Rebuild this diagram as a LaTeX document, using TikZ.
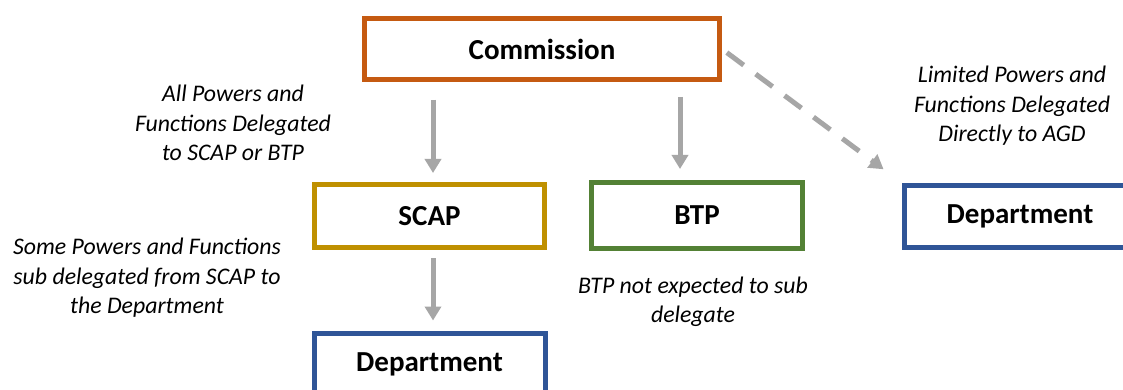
\documentclass[tikz,border=0pt]{standalone}
\usepackage{fontspec}
\setmainfont{Carlito}
\usetikzlibrary{arrows.meta}

\definecolor{comorange}{HTML}{C55A11}
\definecolor{scapgold}{HTML}{BF9000}
\definecolor{btpgreen}{HTML}{538135}
\definecolor{deptblue}{HTML}{2F5597}
\definecolor{arrowgray}{HTML}{A6A6A6}

\begin{document}
\begin{tikzpicture} [x=1pt,y=-1pt,
			box/.style={draw,line width=5pt,fill=white,inner sep=0pt,
				font=\fontsize{29}{34}\selectfont\bfseries},
			commission box/.style={box,draw=comorange,minimum width=355pt,minimum height=61pt},
			scap box/.style={box,draw=scapgold,minimum width=230pt,minimum height=63pt},
			btp box/.style={box,draw=btpgreen,minimum width=211pt,minimum height=66pt},
			dept box/.style={box,draw=deptblue,minimum width=231pt,minimum height=62pt},
			note/.style={align=center,inner sep=0pt,
				font=\fontsize{23.8}{29.5}\selectfont\itshape},
			arr/.style={draw=arrowgray,line width=5pt,
				-{Triangle[width=16pt,length=14pt]},arrowgray},
			dasharr/.style={arr,dash pattern=on 21pt off 15pt}
			]

		\clip (0,0) rectangle (1123,390);
		\fill [white] (0,0) rectangle (1123,390);

		% boxes
		\node [commission box] (com) at (542,49) {Commission};
		\node [scap box] (scap) at (429.5,216) {SCAP};
		\node [btp box] (btp) at (697,215.5) {BTP};
		\node [dept box] (dept1) at (1020,216.5) {Department};
		\node [dept box] (dept2) at (429.5,364) {Department};

		% notes
		\node [note] (n1) at (233,123) {All Powers and\\Functions Delegated\\to SCAP or BTP};
		\node [note] (n2) at (147,278) {Some Powers and Functions\\sub delegated from SCAP to\\the Department};
		\node [note] (n3) at (693,302) {BTP not expected to sub\\delegate};
		\node [note] (n4) at (1012,106) {Limited Powers and\\Functions Delegated\\Directly to AGD};

		% arrows
		\draw [arr,shorten <=18pt,shorten >=9pt,transform canvas={xshift=3.5pt}]
			(com.south -| scap.north) -- (scap.north);
		\draw [arr,shorten <=15pt,shorten >=11pt,transform canvas={xshift=-17pt}]
			(com.south -| btp.north) -- (btp.north);
		\draw [arr,shorten <=8pt,shorten >=10pt,transform canvas={xshift=3.5pt}]
			(scap.south) -- (dept2.north);
		\draw [dasharr,shorten <=6pt,shorten >=23pt] (com.east) -- (dept1.north west);

		\end{tikzpicture}
\end{document}
